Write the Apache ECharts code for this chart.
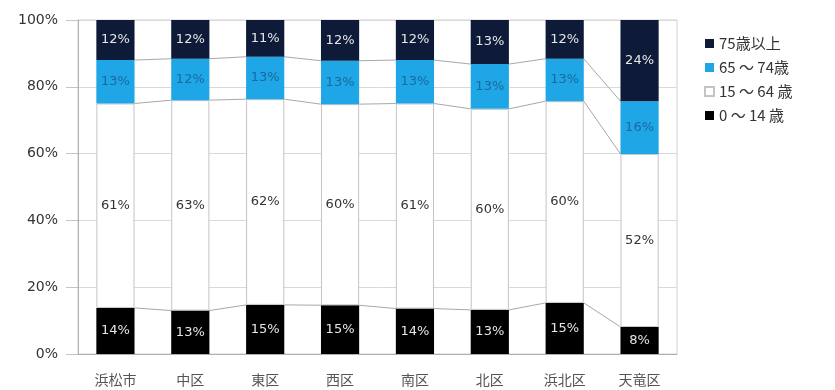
<!DOCTYPE html>
<html>
<head>
<meta charset="utf-8">
<script src="https://cdn.jsdelivr.net/npm/echarts@6/dist/echarts.min.js"></script>
<style>
  html, body { margin: 0; padding: 0; background: #fff; }
  #main { width: 835px; height: 390px; }
</style>
</head>
<body>
<div id="main"></div>
<script>
// 区別 年齢3区分 構成比（%）
var categories = ['浜松市', '中区', '東区', '西区', '南区', '北区', '浜北区', '天竜区'];
var age0to14  = [13.8, 13.0, 14.7, 14.6, 13.6, 13.2, 15.3, 8.1];
var age15to64 = [61.2, 63.0, 61.6, 60.2, 61.4, 60.2, 60.4, 51.8];
var age65to74 = [13.0, 12.4, 12.7, 13.0, 13.0, 13.4, 12.7, 15.8];
var age75over = [12.0, 11.6, 11.0, 12.2, 12.0, 13.2, 11.6, 24.3];
var yTicks = [0, 20, 40, 60, 80, 100];

var BAR_RATIO = 0.51;
var labelFont = 'DejaVu Sans';

// cumulative tops of each segment, for the series lines between bars
function cumulate(lists) {
  var out = [], run = categories.map(function () { return 0; });
  lists.forEach(function (l) {
    run = run.map(function (v, i) { return v + l[i]; });
    out.push(run.slice());
  });
  return out;
}
var bounds = cumulate([age0to14, age15to64, age65to74]);

function pct(p) { return Math.round(p.value) + '%'; }

function barSeries(name, data, color, textColor, border) {
  return {
    name: name,
    type: 'bar',
    stack: 'total',
    barWidth: (BAR_RATIO * 100) + '%',
    z: 3,
    data: data,
    itemStyle: {
      color: color,
      borderColor: border || color,
      borderWidth: border ? 1 : 0
    },
    label: {
      show: true,
      position: 'inside',
      formatter: pct,
      color: textColor,
      fontFamily: labelFont,
      fontSize: 13
    },
    emphasis: { disabled: true }
  };
}

var chart = echarts.init(document.getElementById('main'));

var option = {
  backgroundColor: '#ffffff',
  animation: false,
  grid: {
    left: 78,
    right: 158,
    top: 20,
    bottom: 36,
    show: true,
    borderColor: '#d0d0d0',
    borderWidth: 1
  },
  legend: {
    orient: 'vertical',
    left: 699,
    top: 31,
    itemWidth: 9,
    itemHeight: 9,
    itemGap: 9,
    icon: 'rect',
    data: ['75歳以上', '65 ～ 74歳', '15 ～ 64 歳', '0 ～ 14 歳'],
    textStyle: {
      fontFamily: 'Noto Sans CJK JP',
      fontSize: 15,
      color: '#333'
    }
  },
  xAxis: {
    type: 'category',
    data: categories,
    axisLine: { lineStyle: { color: '#b0b0b0' } },
    axisTick: { show: false },
    splitLine: { show: false },
    axisLabel: {
      margin: 19,
      fontFamily: 'Noto Sans CJK JP',
      fontSize: 14,
      color: '#555'
    }
  },
  yAxis: {
    type: 'value',
    min: 0,
    max: 100,
    interval: 20,
    axisLine: { show: true, lineStyle: { color: '#b0b0b0' } },
    axisTick: { show: true, length: 12, lineStyle: { color: '#c4c4c4' } },
    splitLine: { lineStyle: { color: '#d9d9d9' } },
    axisLabel: {
      margin: 20,
      fontFamily: labelFont,
      fontSize: 14,
      color: '#333',
      formatter: function (v) { return yTicks.indexOf(v) >= 0 ? v + '%' : ''; }
    }
  },
  series: [
    barSeries('0 ～ 14 歳', age0to14, '#000000', '#e6e6e6'),
    barSeries('15 ～ 64 歳', age15to64, '#ffffff', '#333333', '#c4c4c4'),
    barSeries('65 ～ 74歳', age65to74, '#1ea6e6', '#1a6a9c'),
    barSeries('75歳以上', age75over, '#0e1b38', '#e6e6e6'),
    {
      type: 'custom',
      silent: true,
      z: 1,
      encode: { x: 0, y: 1 },
      data: categories.slice(0, -1).map(function (c, i) { return [i, 0]; }),
      renderItem: function (params, api) {
        var i = params.dataIndex;
        var half = api.size([1, 0])[0] * BAR_RATIO / 2;
        var children = bounds.map(function (b) {
          var p1 = api.coord([i, b[i]]);
          var p2 = api.coord([i + 1, b[i + 1]]);
          return {
            type: 'line',
            shape: { x1: p1[0] + half, y1: p1[1], x2: p2[0] - half, y2: p2[1] },
            style: { stroke: '#a8a8a8', lineWidth: 1 }
          };
        });
        return { type: 'group', children: children };
      }
    }
  ]
};

chart.setOption(option);
</script>
</body>
</html>
